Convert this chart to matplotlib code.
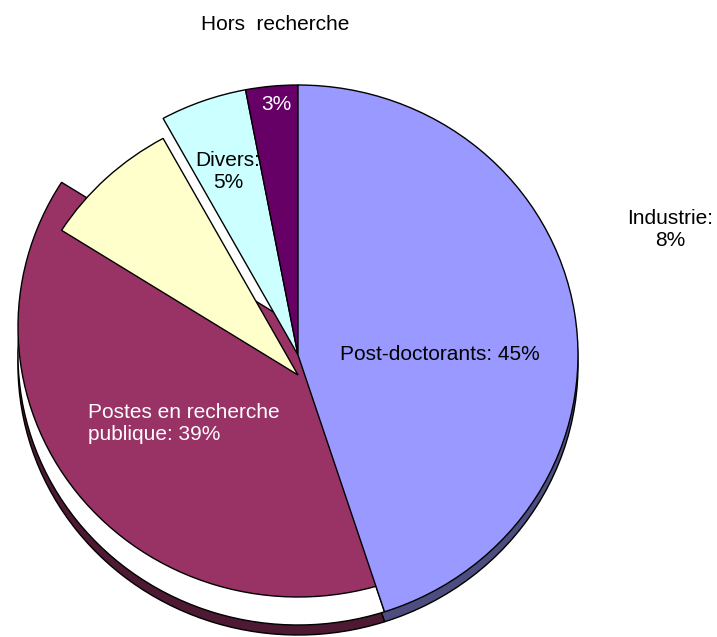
import matplotlib
matplotlib.use("Agg")
import matplotlib.pyplot as plt

# ---- data ----
categories = ["Post-doctorants", "Postes en recherche publique", "Industrie", "Divers", "Hors  recherche"]
label_names = ["Post-doctorants", "Postes en recherche\npublique", "Industrie", "Divers", "Hors  recherche"]
values = [45, 39, 8, 5, 3]

# ---- style ----
face_colors = ["#9999FF", "#993366", "#FFFFCC", "#CCFFFF", "#660066"]
side_colors = ["#4D4D80", "#4D1933", "#80806A", "#6A8080", "#330033"]
plt.rcParams['font.family'] = ['Liberation Sans', 'DejaVu Sans']
FS = 15

W, H = 717, 637
CX, CY, RX, RY = 298, 355, 280, 270   # pie centre / radii in pixels
DEPTH = 10


def px(x, y):
    return ((x - CX) / RX, (CY - y) / RY)


fig = plt.figure(figsize=(W / 100, H / 100), dpi=100)
ax = fig.add_axes([0, 0, 1, 1])

wp = dict(edgecolor="black", linewidth=1.0)

# side (depth) of the pie
sides, _ = ax.pie(values, colors=side_colors, startangle=90, counterclock=False,
                  center=(0, -DEPTH / RY), wedgeprops=wp)
for i, w in enumerate(sides):
    w.set_zorder(1)
    if i >= 2:
        w.set_visible(False)

# white placeholder where the lifted slice used to be
ph, _ = ax.pie(values, colors=["white"] * len(values), startangle=90, counterclock=False,
               wedgeprops=wp)
for i, w in enumerate(ph):
    w.set_zorder(2)
    if i != 1:
        w.set_visible(False)

# top faces
faces, _ = ax.pie(values, colors=face_colors, startangle=90, counterclock=False,
                  wedgeprops=wp)
offsets = {1: (0, 28), 2: (0, -20)}
zorders = [5, 3, 4, 4, 4]
for i, w in enumerate(faces):
    w.set_zorder(zorders[i])
    if i in offsets:
        dx, dy = offsets[i]
        w.set_center((dx / RX, dy / RY))

# labels
txt = dict(ha="center", va="center", fontsize=FS, zorder=10)
ax.text(*px(440, 354), f"{label_names[0]}: {values[0]}%", color="black", **txt)
ax.text(*px(88, 423), f"{label_names[1]}: {values[1]}%", color="white",
        ha="left", va="center", fontsize=FS, zorder=10, linespacing=1.2)
ax.text(*px(670, 230), f"{label_names[2]}:\n{values[2]}%", color="black", linespacing=1.2, **txt)
ax.text(*px(228, 172), f"{label_names[3]}:\n{values[3]}%", color="black", linespacing=1.2, **txt)
ax.text(*px(275, 25), label_names[4], color="black", **txt)
ax.text(*px(276, 105), f"{values[4]}%", color="white", **txt)

ax.set_aspect("auto")
ax.set_xlim(px(0, 0)[0], px(W, 0)[0])
ax.set_ylim(px(0, H)[1], px(0, 0)[1])
ax.axis("off")

fig.savefig("out.png", dpi=100)
